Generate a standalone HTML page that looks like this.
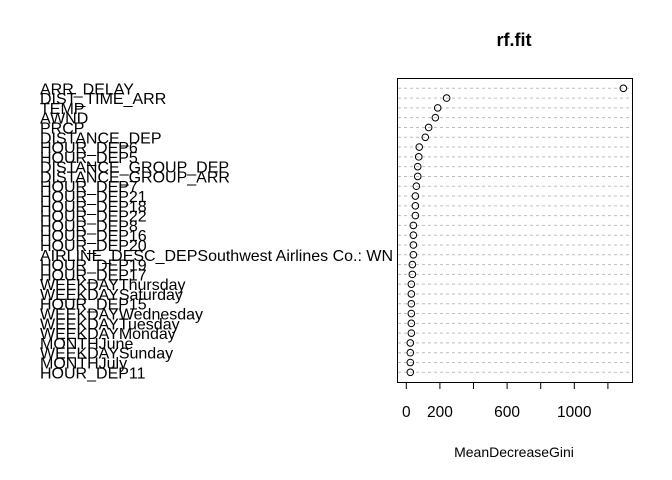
<!DOCTYPE html>
<html><head><meta charset="utf-8"><style>
html,body{margin:0;padding:0;background:#fff;}
svg{display:block;font-family:"Liberation Sans",Arial,sans-serif;}
</style></head><body>
<svg id="chart" width="672" height="480" viewBox="0 0 672 480">
<text x="514" y="46" text-anchor="middle" font-size="18" font-weight="bold" fill="#000">rf.fit</text>
<rect x="397.5" y="78.5" width="235" height="304" fill="none" stroke="#000" stroke-width="1"/>
<g id="grid"></g><g id="points"></g><g id="labels"></g><g id="axis"></g>
<text x="514" y="457" text-anchor="middle" font-size="14" fill="#000">MeanDecreaseGini</text>
</svg>
<script>
const categories=["ARR_DELAY","DIST_TIME_ARR","TEMP","AWND","PRCP","DISTANCE_DEP","HOUR_DEP6","HOUR_DEP5","DISTANCE_GROUP_DEP","DISTANCE_GROUP_ARR","HOUR_DEP7","HOUR_DEP21","HOUR_DEP18","HOUR_DEP22","HOUR_DEP8","HOUR_DEP16","HOUR_DEP20","AIRLINE_DESC_DEPSouthwest Airlines Co.: WN","HOUR_DEP19","HOUR_DEP17","WEEKDAYThursday","WEEKDAYSaturday","HOUR_DEP15","WEEKDAYWednesday","WEEKDAYTuesday","WEEKDAYMonday","MONTHJune","WEEKDAYSunday","MONTHJuly","HOUR_DEP11"];
const values=[1292,240,187,173,133,113,77,74,68,68,60,54,54,54,42,42,42,42,36,36,30,30,30,30,30,30,24,24,24,24];
const tickValues=[0,200,400,600,800,1000,1200];
const tickLabels=["0","200","","600","","1000",""];
const NS="http://www.w3.org/2000/svg";
const xScale=v=>406.3+v*0.168;
const yScale=i=>88.3+i*(284/(categories.length-1));
function mk(tag,attrs,parent){const e=document.createElementNS(NS,tag);for(const k in attrs)e.setAttribute(k,attrs[k]);document.getElementById(parent).appendChild(e);return e;}
categories.forEach((c,i)=>{
  const y=yScale(i);
  const g=mk("line",{x1:398,x2:632,y1:y,y2:y,stroke:"#bebebe","stroke-dasharray":"3,3","stroke-width":1},"grid");
  
  
  const p=mk("circle",{cx:xScale(values[i]),cy:y,r:3.3,fill:"none",stroke:"#000","stroke-width":1},"points");
  
  
  const t=mk("text",{x:40,y:y+6,"font-size":"16",fill:"#000"},"labels");
  t.textContent=c;
  
  
});
tickValues.forEach((v,i)=>{
  const x=xScale(v);
  const l=mk("line",{x1:x,x2:x,y1:382,y2:389,stroke:"#000","stroke-width":1},"axis");
  
  
  if(tickLabels[i]){
    const t=mk("text",{x:x,y:417,"text-anchor":"middle","font-size":"15.5",fill:"#000"},"axis");
    t.textContent=tickLabels[i];
    
    
  }
});
</script>
</body></html>
